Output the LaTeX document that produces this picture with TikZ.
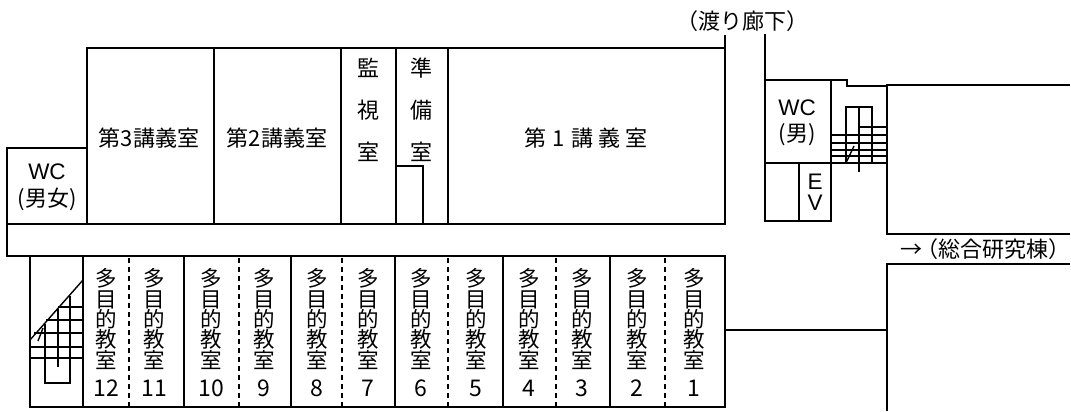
\documentclass[tikz,border=0pt]{standalone}
\usepackage{fontspec}
\setmainfont{Noto Sans CJK JP}
\newfontfamily\latinfont{Liberation Sans}
\tikzset{
wall/.style={line width=1.6pt, line cap=rect, line join=miter},
thin wall/.style={line width=1.4pt},
partition/.style={line width=1.5pt, dash pattern=on 5pt off 4pt},
room/.style={inner sep=0pt, font=\fontsize{22pt}{26pt}\selectfont, align=center},
stack/.style={inner sep=0pt, font=\fontsize{21.5pt}{20.4pt}\selectfont, align=center},
digit/.style={inner sep=0pt, font=\fontsize{23pt}{26pt}\selectfont},
sign/.style={inner sep=0pt, font=\latinfont\fontsize{22.5pt}{27pt}\selectfont, align=center}
}
\begin{document}
\begin{tikzpicture}[x=1pt,y=-1pt]
\useasboundingbox (0,0) rectangle (1071,412);

\draw[wall] (87,224) -- (87,48) -- (725,48);
\draw[wall] (725,36) -- (725,224);
\draw[wall] (7,224) -- (725,224);
\draw[wall] (87,148) -- (7,148) -- (7,256) -- (725,256) -- (725,407) -- (30,407) -- (30,256);
\draw[wall] (725,330) -- (887,330);

\foreach \x in {214,341,396,448}
\draw[wall] (\x,48) -- (\x,224);
\draw[wall] (397,166) -- (423,166) -- (423,224);

\foreach \x in {83,184,291,395,503,610}
\draw[wall] (\x,256) -- (\x,407);
\foreach \x in {129,239,342,448,556,665}
\draw[partition] (\x,258) -- (\x,407);

\draw[thin wall] (30,340) -- (83,280);
\foreach \x/\y in {58/307,46/320,34/333,30/347,30/358}
\draw[thin wall] (\x,\y) -- (83,\y);
\draw[thin wall] (45,324) -- (45,383) -- (70,383) -- (70,296);
\draw[thin wall] (58,309) -- (58,367);
\draw[thin wall] (43,328) -- (38,341);

\draw[wall] (765,35) -- (765,221) -- (831,221) -- (831,80);
\draw[wall] (765,80) -- (847,80) -- (847,86) -- (887,86);
\draw[wall] (765,163) -- (886,163);
\draw[wall] (799,163) -- (799,221);
\draw[wall] (1069,85) -- (887,85) -- (887,234) -- (1069,234);
\draw[wall] (1069,264) -- (887,264) -- (887,410);

\draw[thin wall] (846,163) -- (846,107) -- (872,107) -- (872,163);
\draw[thin wall] (859,107) -- (859,172);
\draw[thin wall] (859,127) -- (886,127);
\foreach \y in {135,143,150,156}
\draw[thin wall] (831,\y) -- (886,\y);
\draw[thin wall] (854,146) -- (846,163);

\node[room] (hall3) at (149,138) {第3講義室};
\node[room] (hall2) at (277,138) {第2講義室};
\node[room] (hall1) at (586,138) {第\hspace{6pt}1\hspace{6pt}講\hspace{5pt}義\hspace{5pt}室};
\node[room] (watch1) at (368,68) {監};
\node[room] (watch2) at (368,110) {視};
\node[room] (watch3) at (368,152) {室};
\node[room] (prep1) at (421,68) {準};
\node[room] (prep2) at (421,110) {備};
\node[room] (prep3) at (421,152) {室};

\node[sign] (wcmix) at (47,172) {WC};
\node[room] (wcmixb) at (47,199) {(男女)};
\node[sign] (wcmale) at (797,108) {WC};
\node[room] (wcmaleb) at (797,135) {(男)};
\node[sign] (eve) at (815,182) {E};
\node[sign] (evv) at (815,203) {V};

\foreach \x/\n in {106/12,154/11,211/10,264/9,317/8,368/7,421/6,476/5,529/4,582/3,637/2,694/1}
{
\node[stack] (multi\n) at (\x,319) {多\\目\\的\\教\\室};
\node[digit] (num\n) at (\x,388) {\n};
}

\node[room] (bridge) at (742,21) {（渡り廊下）};
\node[room, anchor=east] (research) at (1071,249) {→\hspace{-6pt}（総合研究棟）};
\end{tikzpicture}
\end{document}
